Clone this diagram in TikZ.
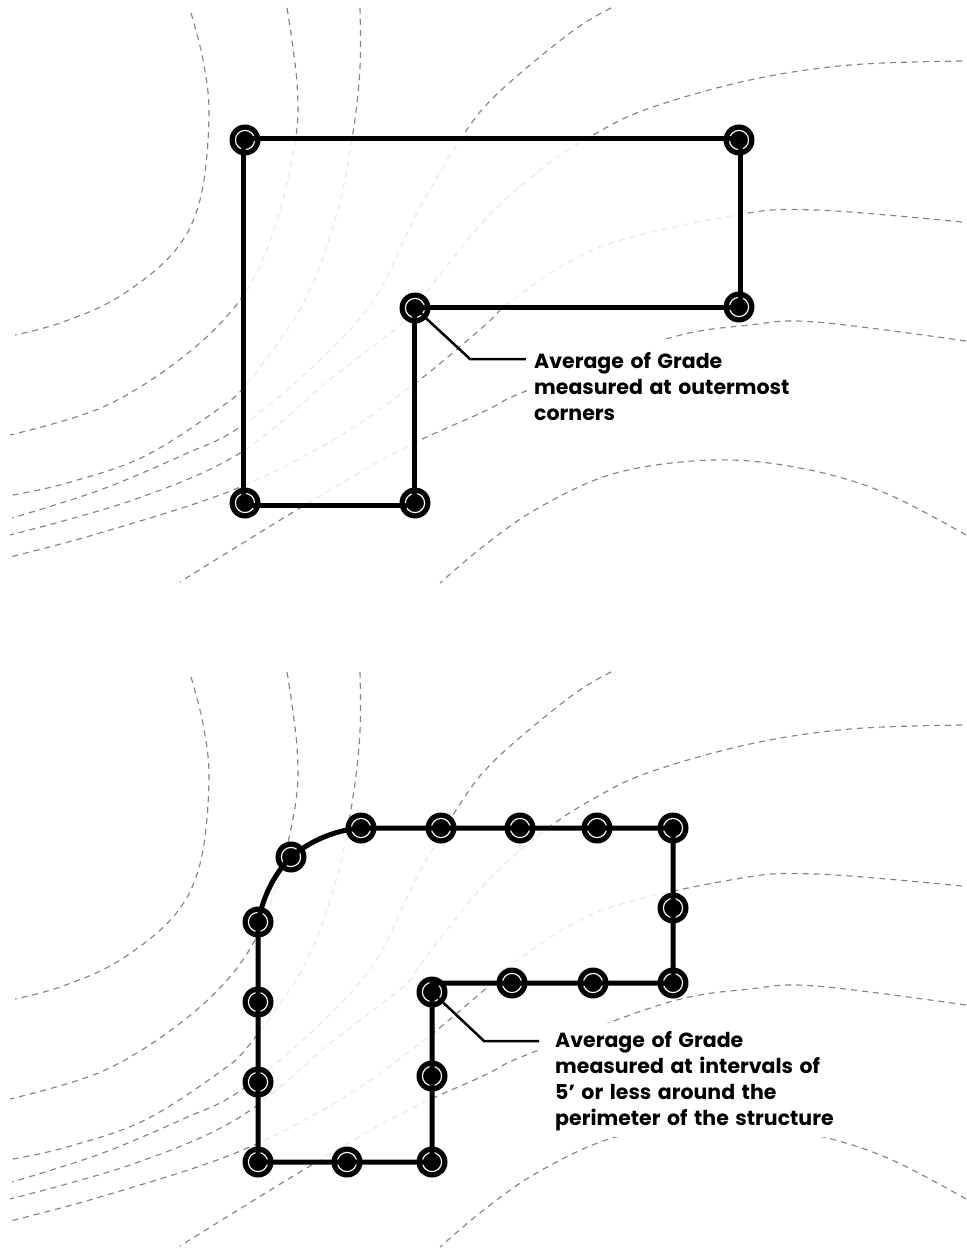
\documentclass[tikz,border=0pt]{standalone}
\usepackage{fontspec}
\newfontfamily\lab[WordSpace=1.5]{Poppins Bold}
\tikzset{
  contour/.style={draw=black!48,line width=1.15pt,dash pattern=on 6pt off 5pt},
  spot/.style={circle,fill=black,inner sep=0pt,minimum size=31pt,
    path picture={\draw[white,line width=1.15pt] (path picture bounding box.center) circle (9.6pt);}},
  wall/.style={draw=black,line width=5pt,line join=miter},
  leader/.style={draw=black,line width=2.5pt,line join=miter},
  mask/.style={fill=white,fill opacity=.82,draw=none},
  blank/.style={fill=white,draw=none},
  callout/.style={anchor=north west,align=left,inner sep=0pt,text=black,font=\lab\fontsize{20.5pt}{25.9pt}\selectfont},
  pics/contours/.style={code={
    \draw[contour] plot[smooth,tension=.6] coordinates {(191,13) (203,60) (209,117) (200,200) (173,253) (117,298) (60,323) (15,335)};
    \draw[contour] plot[smooth,tension=.6] coordinates {(287,8) (297,83) (295,143) (273,233) (240,300) (183,357) (103,407) (10,435)};
    \draw[contour] plot[smooth,tension=.6] coordinates {(360,8) (360,67) (353,133) (337,213) (305,300) (250,380) (217,410) (143,457) (67,483) (13,495)};
    \draw[contour] plot[smooth,tension=.6] coordinates {(611,8) (570,33) (496,95) (460,140) (417,213) (375,298) (317,363) (240,427) (183,455) (100,490) (12,518)};
    \draw[contour] plot[smooth,tension=.6] coordinates {(962,61) (850,65) (750,80) (650,108) (593,135) (540,170) (483,222) (423,297) (403,323) (333,377) (240,453) (133,500) (10,535)};
    \draw[contour] plot[smooth,tension=.6] coordinates {(962,222) (816,210) (736,215) (600,247) (515,298) (483,327) (413,385) (333,440) (233,490) (100,533) (10,557)};
    \draw[contour] plot[smooth,tension=.6] coordinates {(966,341) (816,322) (750,325) (666,339) (526,391) (483,412) (400,450) (300,508) (180,582)};
    \draw[contour] plot[smooth,tension=.6] coordinates {(966,535) (883,492) (800,468) (713,460) (616,473) (540,507) (485,545) (440,583)};
  }}
}
\begin{document}
\begin{tikzpicture}[x=1pt,y=-1pt]
\useasboundingbox (0,0) rectangle (966,1249);
\fill[white] (0,0) rectangle (966,1249);
\pic at (0,0) {contours};
\pic at (0,664) {contours};
% veils over the contours
\fill[mask] (243,139) -- (740,139) -- (740,307) -- (414,307) -- (414,505) -- (243,505) -- cycle;
\fill[mask] (361,828) -- (673,828) -- (673,983) -- (432,983) -- (432,1162) -- (258,1162) -- (258,922) .. controls (266,880) and (305,832) .. (361,828) -- cycle;
\fill[blank] (527,339) rectangle (800,425);
\fill[blank] (540,1023) rectangle (850,1137);
% top markers
\node[spot] (a1) at (245,140) {};
\node[spot] (a2) at (739,140) {};
\node[spot] (a3) at (739,307) {};
\node[spot] (a4) at (415,308) {};
\node[spot] (a5) at (415,503) {};
\node[spot] (a6) at (245,503) {};
\coordinate (v1) at (243,139);
\coordinate (v2) at (740,139);
\coordinate (v3) at (740,307);
\coordinate (v4) at (414,307);
\coordinate (v5) at (414,505);
\coordinate (v6) at (243,505);
\draw[wall] (v1) -- (v2) -- (v3) -- (v4) -- (v5) -- (v6) -- cycle;
% bottom markers
\node[spot] (b1) at (361,828) {};
\node[spot] (b2) at (441,828) {};
\node[spot] (b3) at (520,828) {};
\node[spot] (b4) at (597,828) {};
\node[spot] (b5) at (673,828) {};
\node[spot] (b6) at (673,908) {};
\node[spot] (b7) at (673,983) {};
\node[spot] (b8) at (593,983) {};
\node[spot] (b9) at (512,983) {};
\node[spot] (b10) at (432,992) {};
\node[spot] (b11) at (432,1076) {};
\node[spot] (b12) at (432,1162) {};
\node[spot] (b13) at (347,1162) {};
\node[spot] (b14) at (258,1162) {};
\node[spot] (b15) at (258,1082) {};
\node[spot] (b16) at (258,1002) {};
\node[spot] (b17) at (258,922) {};
\node[spot] (b18) at (291,857) {};
\coordinate (bn) at (432,983);
\draw[wall] (b17.center) .. controls (264,893) and (276,872) .. (b18.center) .. controls (310,841) and (335,830) .. (b1.center) -- (b2.center) -- (b3.center) -- (b4.center) -- (b5.center) -- (b6.center) -- (b7.center) -- (b8.center) -- (b9.center) -- (bn) -- (b10.center) -- (b11.center) -- (b12.center) -- (b13.center) -- (b14.center) -- (b15.center) -- (b16.center) -- (b17.center);
% callouts
\node[callout] (t1) at (534,352.5) {Average of Grade\\measured at outermost\\corners};
\node[callout] (t2) at (555,1031.5) {Average of Grade\\measured at intervals of\\5’ or less around the\\perimeter of the structure};
\coordinate (e1) at (470,359);
\coordinate (f1) at (526,359);
\coordinate (e2) at (484,1041);
\coordinate (f2) at (539,1041);
\draw[leader] (a4.center) -- (e1) -- (f1);
\draw[leader] (b10.center) -- (e2) -- (f2);
\end{tikzpicture}
\end{document}
